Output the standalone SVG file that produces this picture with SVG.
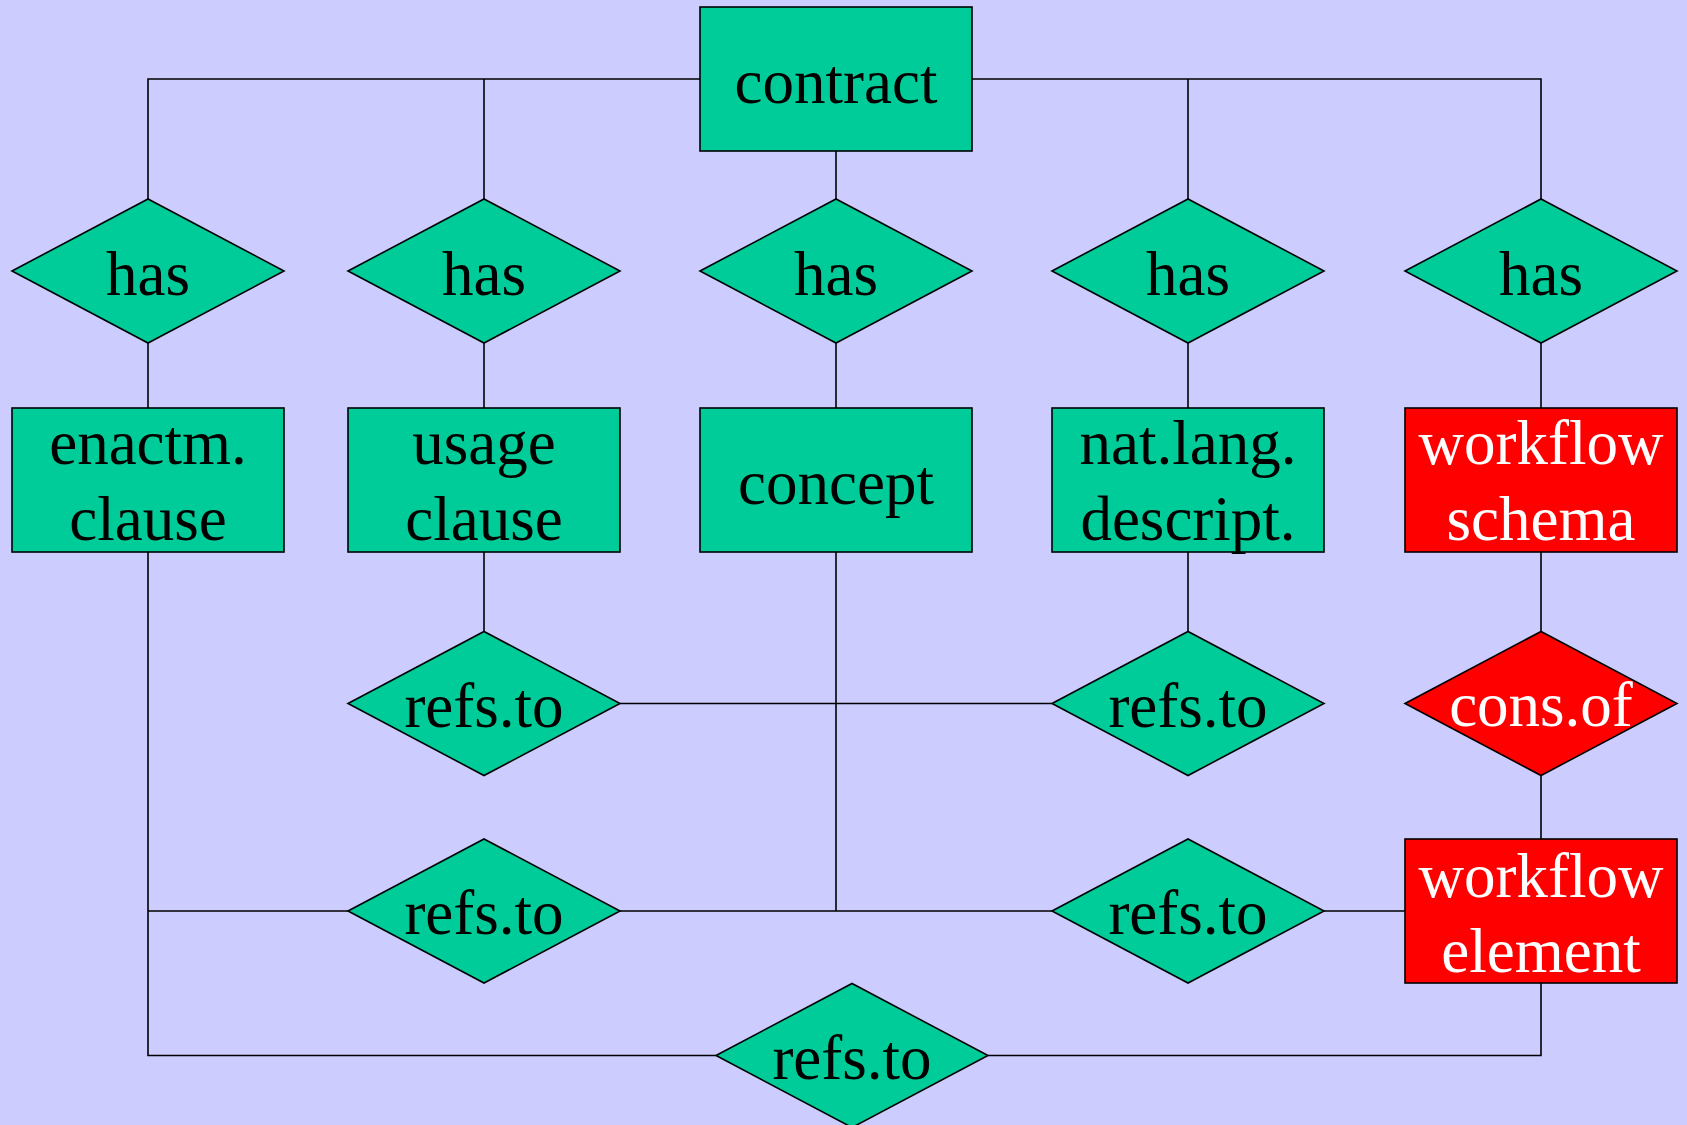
<svg xmlns="http://www.w3.org/2000/svg" width="1687" height="1125" viewBox="0 0 1687 1125">
<style>
.bg{fill:#CCCCFF}
.g{fill:#00CC99;stroke:#000;stroke-width:1.6}
.r{fill:#FF0000;stroke:#000;stroke-width:1.6}
.ln{fill:none;stroke:#000;stroke-width:1.6}
text{font-family:"Liberation Serif","Times New Roman",serif;font-size:63px;text-anchor:middle;fill:#000}
.w{fill:#fff}
</style>
<rect class="bg" x="0" y="0" width="1687" height="1125"/>
<g id="connectors">
<polyline class="ln" points="148,199 148,79 700,79"/>
<line class="ln" x1="484" y1="79" x2="484" y2="199"/>
<polyline class="ln" points="972,79 1541,79 1541,199"/>
<line class="ln" x1="1188" y1="79" x2="1188" y2="199"/>
<line class="ln" x1="836" y1="151" x2="836" y2="199"/>
<line class="ln" x1="148" y1="343" x2="148" y2="408"/>
<line class="ln" x1="484" y1="343" x2="484" y2="408"/>
<line class="ln" x1="836" y1="343" x2="836" y2="408"/>
<line class="ln" x1="1188" y1="343" x2="1188" y2="408"/>
<line class="ln" x1="1541" y1="343" x2="1541" y2="408"/>
<line class="ln" x1="484" y1="552" x2="484" y2="631.5"/>
<line class="ln" x1="1188" y1="552" x2="1188" y2="631.5"/>
<line class="ln" x1="1541" y1="552" x2="1541" y2="631.5"/>
<line class="ln" x1="1541" y1="775.5" x2="1541" y2="839"/>
<line class="ln" x1="620" y1="703.5" x2="1052" y2="703.5"/>
<line class="ln" x1="836" y1="552" x2="836" y2="911"/>
<polyline class="ln" points="148,552 148,1055.5 716,1055.5"/>
<line class="ln" x1="148" y1="911" x2="348" y2="911"/>
<line class="ln" x1="620" y1="911" x2="1052" y2="911"/>
<line class="ln" x1="1324" y1="911" x2="1405" y2="911"/>
<polyline class="ln" points="988,1055.5 1541,1055.5 1541,983"/>
</g>
<g id="contract"><rect class="g" x="700" y="7" width="272" height="144"/><text x="836" y="102.5">contract</text></g>
<g id="has1"><polygon class="g" points="12,271 148,199 284,271 148,343"/><text x="148" y="294.5">has</text></g>
<g id="has2"><polygon class="g" points="348,271 484,199 620,271 484,343"/><text x="484" y="294.5">has</text></g>
<g id="has3"><polygon class="g" points="700,271 836,199 972,271 836,343"/><text x="836" y="294.5">has</text></g>
<g id="has4"><polygon class="g" points="1052,271 1188,199 1324,271 1188,343"/><text x="1188" y="294.5">has</text></g>
<g id="has5"><polygon class="g" points="1405,271 1541,199 1677,271 1541,343"/><text x="1541" y="294.5">has</text></g>
<g id="enactm-clause"><rect class="g" x="12" y="408" width="272" height="144"/><text x="148" y="464">enactm.</text><text x="148" y="540">clause</text></g>
<g id="usage-clause"><rect class="g" x="348" y="408" width="272" height="144"/><text x="484" y="464">usage</text><text x="484" y="540">clause</text></g>
<g id="concept"><rect class="g" x="700" y="408" width="272" height="144"/><text x="836" y="503.5">concept</text></g>
<g id="natlang-descript"><rect class="g" x="1052" y="408" width="272" height="144"/><text x="1188" y="464">nat.lang.</text><text x="1188" y="540">descript.</text></g>
<g id="workflow-schema"><rect class="r" x="1405" y="408" width="272" height="144"/><text class="w" x="1541" y="464">workflow</text><text class="w" x="1541" y="540">schema</text></g>
<g id="refs1"><polygon class="g" points="348,703.5 484,631.5 620,703.5 484,775.5"/><text x="484" y="726.5">refs.to</text></g>
<g id="refs2"><polygon class="g" points="1052,703.5 1188,631.5 1324,703.5 1188,775.5"/><text x="1188" y="726.5">refs.to</text></g>
<g id="consof"><polygon class="r" points="1405,703.5 1541,631.5 1677,703.5 1541,775.5"/><text class="w" x="1541" y="725.5">cons.of</text></g>
<g id="refs3"><polygon class="g" points="348,911 484,839 620,911 484,983"/><text x="484" y="934">refs.to</text></g>
<g id="refs4"><polygon class="g" points="1052,911 1188,839 1324,911 1188,983"/><text x="1188" y="934">refs.to</text></g>
<g id="workflow-element"><rect class="r" x="1405" y="839" width="272" height="144"/><text class="w" x="1541" y="896.5">workflow</text><text class="w" x="1541" y="972">element</text></g>
<g id="refs5"><polygon class="g" points="716,1055.5 852,983.5 988,1055.5 852,1127.5"/><text x="852" y="1078.5">refs.to</text></g>
</svg>
